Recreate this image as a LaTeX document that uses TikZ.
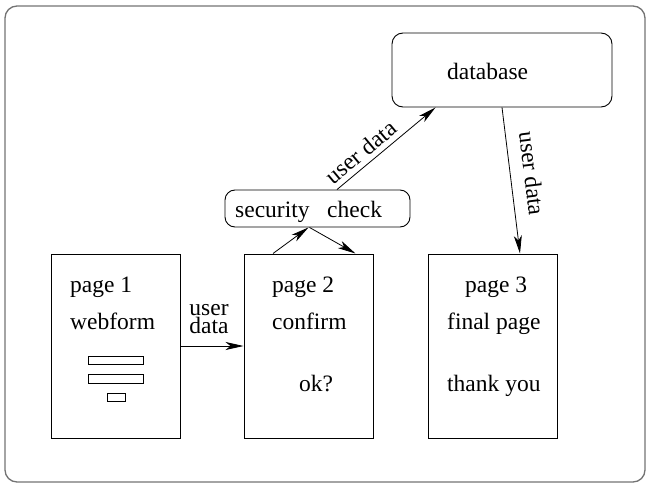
\documentclass[tikz,border=0pt]{standalone}
\usepackage{fontspec}
\setmainfont{Liberation Serif}
\usetikzlibrary{arrows.meta}
\newcommand{\formbar}[4]{\draw[line width=0.8pt] ( #1 , #2 ) rectangle ( #3 , #4 );}
\tikzset{
  pagebox/.style={draw, line width=1pt, minimum width=129pt, minimum height=184pt, inner sep=0pt},
  roundbox/.style={draw, line width=0.9pt, rounded corners=11pt, inner sep=0pt},
  flow/.style={line width=0.8pt, -{Stealth[length=18pt,width=8pt,inset=5pt]}},
  txt/.style={anchor=base west, inner sep=0pt},
}
\begin{document}
\begin{tikzpicture}[x=1pt, y=-1pt, font=\fontsize{23.5}{28}\selectfont]
    \useasboundingbox (0,0) rectangle (648,484);
    % outer frame
    \draw[black!55, line width=1.3pt, rounded corners=12pt] (5,6) rectangle (645,482);
    % boxes
    \node[roundbox, minimum width=220pt, minimum height=74pt] (database) at (502,70) {};
    \node[roundbox, minimum width=185pt, minimum height=37pt, rounded corners=10pt] (check) at (317.5,208.5) {};
    \node[pagebox] (page1) at (115.5,346) {};
    \node[pagebox] (page2) at (308.5,346) {};
    \node[pagebox] (page3) at (492.5,346) {};
    % texts
    \node[txt] (dbtext) at (447,80) {database};
    \node[txt] (checktext) at (235,217) {security\ \ \ check};
    % page 1
    \node[txt] (p1title) at (70,292) {page 1};
    \node[txt] (p1form) at (70,329) {webform};
    \formbar{88}{356}{143}{364}
    \formbar{88}{374}{143}{383}
    \formbar{107}{393}{125}{401}
    % page 2
    \node[txt] (p2title) at (272,292) {page 2};
    \node[txt] (p2confirm) at (272,329) {confirm};
    \node[txt] (p2ok) at (299,391) {ok?};
    % page 3
    \node[txt] (p3title) at (465,292) {page 3};
    \node[txt] (p3final) at (447,329) {final page};
    \node[txt] (p3thanks) at (447,391) {thank you};
    % arrows
    \draw[flow] (page1) -- node[above=12pt, xshift=-3pt, align=left, font=\fontsize{23.5}{16}\selectfont, inner sep=0pt] {user\\data} (page2);
    \draw[flow] ([xshift=-35.5pt]page2.north) -- ([xshift=-9pt]check.south);
    \draw[flow] ([xshift=-8pt]check.south) -- ([xshift=-18pt]page2.north east);
    \draw[flow] ([xshift=19.5pt]check.north) -- node[sloped, above, pos=0.33, inner sep=5pt] {user data} ([xshift=44pt]database.south west);
    \draw[flow] (database.south) -- node[sloped, above, pos=0.47, inner sep=13pt] {user data} ([xshift=27.5pt]page3.north);
\end{tikzpicture}
\end{document}
